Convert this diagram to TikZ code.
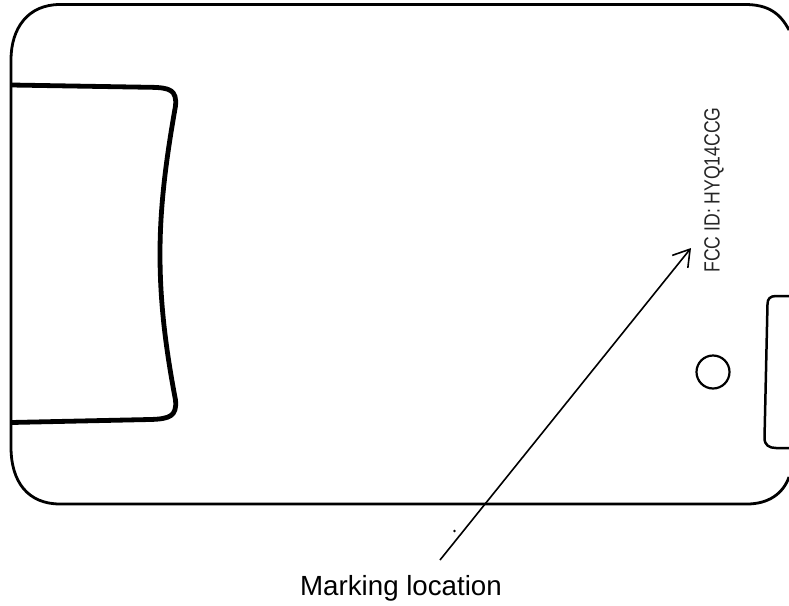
\documentclass[tikz,border=0pt]{standalone}
\usepackage{fontspec}
\setmainfont{Liberation Sans}
\usetikzlibrary{arrows.meta}
\tikzset{
 outline/.style={line width=2.8pt,black},
 tab/.style={line width=4.8pt,black,line join=round},
 pointer/.style={line width=1.6pt,-{Straight Barb[length=16pt,width=20pt,line width=1.6pt]}},
}
\begin{document}
\begin{tikzpicture}[x=1pt,y=-1pt]
\useasboundingbox (0,0) rectangle (789,605);
\draw[outline] (789,30) .. controls (780,13) and (768,4.5) .. (745,4.5) -- (60,4.5)
  .. controls (28,4.5) and (11,28) .. (11,60) -- (11,447)
  .. controls (11,482) and (28,504) .. (60,504) -- (747,504)
  .. controls (768,504) and (783,494) .. (789,477);
\draw[tab] (11,85) -- (150,87.3) .. controls (170,87.5) and (177,90) .. (175.5,106)
  .. controls (165,165) and (160,210) .. (160,254)
  .. controls (160,300) and (165,345) .. (175.5,400)
  .. controls (177,416) and (170,419) .. (150,419.5) -- (11,422.5);
\node[circle,draw,line width=2.2pt,minimum size=33pt,inner sep=0pt] (hole) at (713,372) {};
\draw[line width=2.5pt] (789,296) -- (776,296) .. controls (770,296) and (767.5,299) .. (767.5,304)
  -- (764.5,438) .. controls (764.5,445) and (769,448) .. (776,448) -- (789,448);
\node[rotate=90,font=\fontsize{22}{22}\selectfont,xscale=.8,inner sep=0pt,text=black!85] (fcc) at (714,190) {FCC ID: HYQ14CCG};
\node[font=\fontsize{27.7}{30}\selectfont,inner sep=0pt,anchor=base] (label) at (401,595) {Marking location};
\coordinate (tail) at (440,560);
\coordinate (tip) at (691,248);
\draw[pointer] (tail) -- (tip);
\fill (454.5,531) circle (1.3pt);
\end{tikzpicture}
\end{document}
